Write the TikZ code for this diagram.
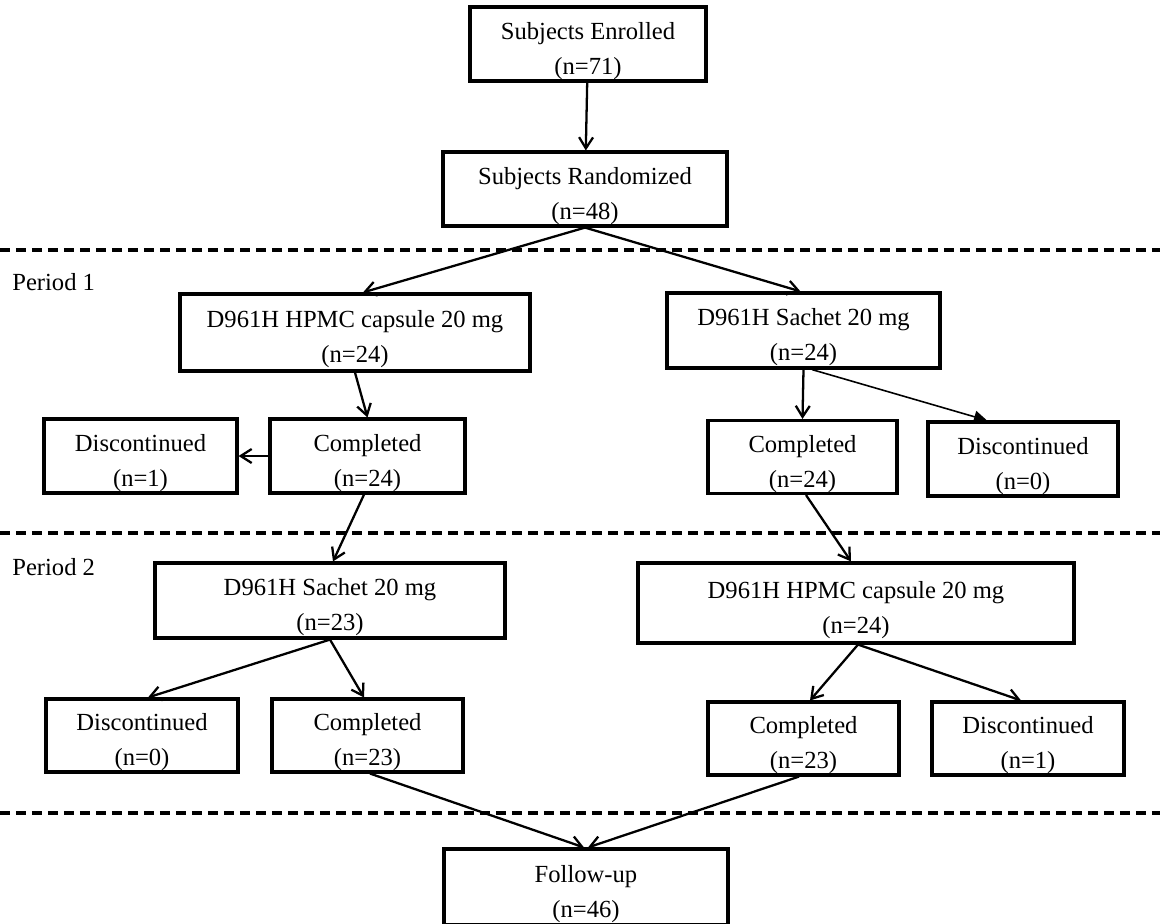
\documentclass[tikz,border=0pt]{standalone}
\usepackage{fontspec}
\setmainfont{Liberation Serif}
\usetikzlibrary{arrows.meta}

\tikzset{
  box/.style={draw, line width=1.8pt, rectangle, align=center, inner sep=0pt,
    font=\fontsize{14}{20}\selectfont, text height=38pt, text depth=3.5pt},
  arr/.style={line width=1.3pt, -{Straight Barb[length=2.2mm,width=2.8mm,line width=1.3pt]}},
  thinarr/.style={line width=0.9pt, -{Triangle[length=2.6mm,width=2.4mm]}},
  period/.style={dashed, line width=2pt, dash pattern=on 0.2cm off 0.12cm},
  plabel/.style={anchor=west, inner sep=0pt, font=\fontsize{14}{17}\selectfont}
}

\begin{document}
\begin{tikzpicture}
  \useasboundingbox (0,0) rectangle (23.2,-18.46);

  %Define nodes
  \node[box, minimum width=4.72cm, minimum height=1.48cm] (enrolled) at (11.76,-0.88) {Subjects Enrolled\\(n=71)};
  \node[box, minimum width=5.68cm, minimum height=1.48cm] (random) at (11.7,-3.78) {Subjects Randomized\\(n=48)};

  \node[box, minimum width=7cm, minimum height=1.54cm] (p1_hpmc) at (7.1,-6.65) {D961H HPMC capsule 20 mg\\(n=24)};
  \node[box, minimum width=5.46cm, minimum height=1.5cm] (p1_sachet) at (16.07,-6.61) {D961H Sachet 20 mg\\(n=24)};
  \node[box, minimum width=3.86cm, minimum height=1.48cm] (p1_disc_l) at (2.81,-9.12) {Discontinued\\(n=1)};
  \node[box, minimum width=3.9cm, minimum height=1.48cm] (p1_comp_l) at (7.35,-9.12) {Completed\\(n=24)};
  \node[box, minimum width=3.78cm, minimum height=1.44cm] (p1_comp_r) at (16.05,-9.14) {Completed\\(n=24)};
  \node[box, minimum width=3.8cm, minimum height=1.48cm] (p1_disc_r) at (20.46,-9.18) {Discontinued\\(n=0)};

  \node[box, minimum width=7cm, minimum height=1.5cm] (p2_sachet) at (6.6,-12.01) {D961H Sachet 20 mg\\(n=23)};
  \node[box, minimum width=8.72cm, minimum height=1.6cm] (p2_hpmc) at (17.12,-12.06) {D961H HPMC capsule 20 mg\\(n=24)};
  \node[box, minimum width=3.84cm, minimum height=1.42cm] (p2_disc_l) at (2.84,-14.71) {Discontinued\\(n=0)};
  \node[box, minimum width=3.82cm, minimum height=1.42cm] (p2_comp_l) at (7.35,-14.71) {Completed\\(n=23)};
  \node[box, minimum width=3.82cm, minimum height=1.46cm] (p2_comp_r) at (16.07,-14.77) {Completed\\(n=23)};
  \node[box, minimum width=3.84cm, minimum height=1.46cm] (p2_disc_r) at (20.56,-14.77) {Discontinued\\(n=1)};

  \node[box, minimum width=5.68cm, minimum height=1.52cm] (followup) at (11.72,-17.74) {Follow-up\\(n=46)};

  % Period separators
  \coordinate (sep1_w) at (0,-5);     \coordinate (sep1_e) at (23.2,-5);
  \coordinate (sep2_w) at (0,-10.66); \coordinate (sep2_e) at (23.2,-10.66);
  \coordinate (sep3_w) at (0,-16.26); \coordinate (sep3_e) at (23.2,-16.26);
  \draw[period] (sep1_w) -- (sep1_e);
  \draw[period] (sep2_w) -- (sep2_e);
  \draw[period] (sep3_w) -- (sep3_e);
  \node[plabel] (period_1) at (0.24,-5.64) {Period 1};
  \node[plabel] (period_2) at (0.24,-11.34) {Period 2};

  % Connect the nodes
  \draw[arr] (enrolled) -- (random);
  \draw[arr] (random.south) -- ([xshift=0.16cm]p1_hpmc.north);
  \draw[arr] (random.south) -- ([xshift=-0.06cm]p1_sachet.north);
  \draw[arr] (p1_hpmc.south) -- (p1_comp_l.north);
  \draw[arr] (p1_comp_l.west) -- (p1_disc_l.east);
  \draw[arr] (p1_sachet.south) -- (p1_comp_r.north);
  \draw[thinarr] ([xshift=0.17cm]p1_sachet.south) -- ([xshift=-0.72cm]p1_disc_r.north);

  \draw[arr] ([xshift=-0.07cm]p1_comp_l.south) -- ([xshift=0.06cm]p2_sachet.north);
  \draw[arr] ([xshift=0.07cm]p1_comp_r.south) -- ([xshift=-0.1cm]p2_hpmc.north);
  \draw[arr] (p2_sachet.south) -- ([xshift=0.12cm]p2_disc_l.north);
  \draw[arr] (p2_sachet.south) -- ([xshift=-0.07cm]p2_comp_l.north);
  \draw[arr] ([xshift=0.04cm]p2_hpmc.south) -- ([xshift=0.13cm]p2_comp_r.north);
  \draw[arr] ([xshift=0.04cm]p2_hpmc.south) -- ([xshift=-0.14cm]p2_disc_r.north);

  \draw[arr] ([xshift=0.05cm]p2_comp_l.south) -- ([xshift=-0.04cm]followup.north);
  \draw[arr] ([xshift=-0.09cm]p2_comp_r.south) -- ([xshift=0.04cm]followup.north);
\end{tikzpicture}
\end{document}
